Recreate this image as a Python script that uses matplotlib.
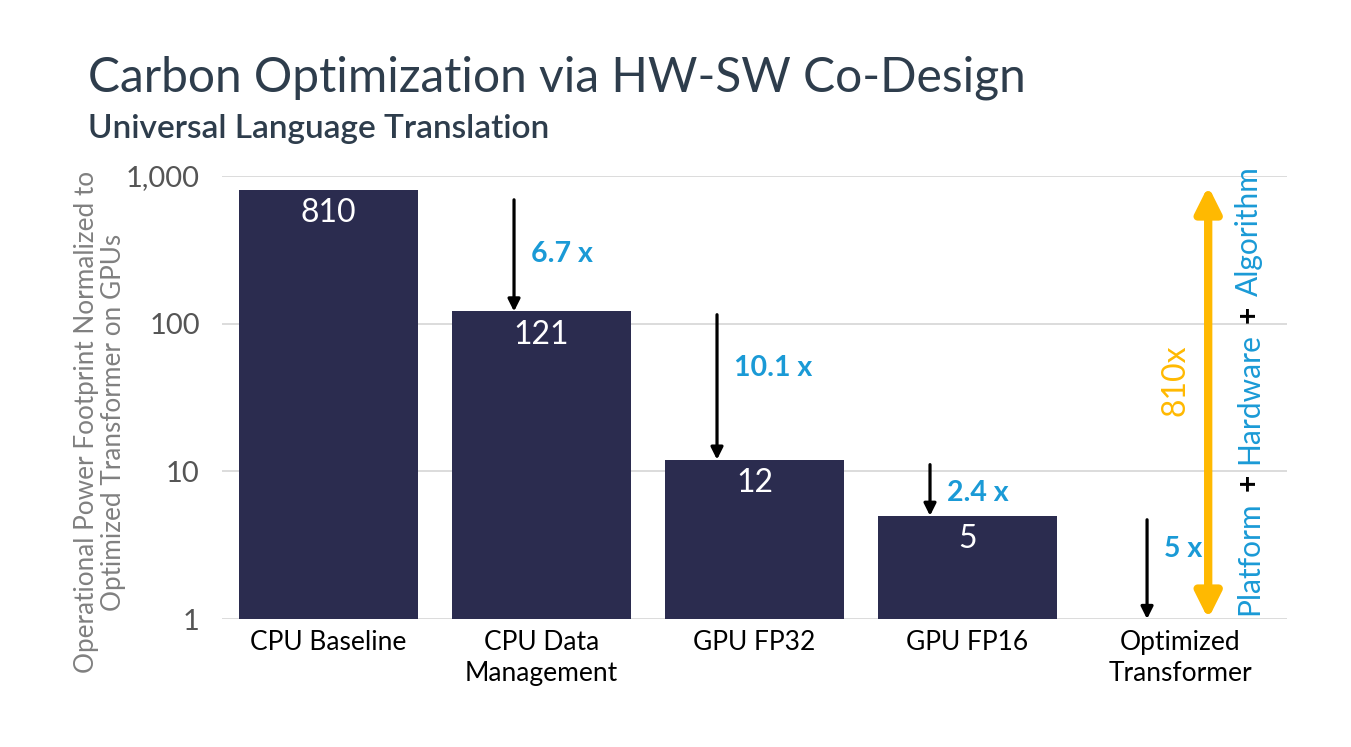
import matplotlib
matplotlib.use("Agg")
import matplotlib.pyplot as plt
import numpy as np

plt.rcParams['font.family'] = ['Lato', 'DejaVu Sans']

# ---- data ----
categories = ["CPU Baseline", "CPU Data\nManagement", "GPU FP32", "GPU FP16", "Optimized\nTransformer"]
values = [810, 121, 12, 5, None]
value_labels = ["810", "121", "12", "5"]
reduction_labels = ["6.7 x", "10.1 x", "2.4 x", "5 x"]
arrow_tops = [690, 115, 11.1, 4.7]      # start of each reduction arrow
arrow_bottoms = [121, 12, 5, 1]          # end of each reduction arrow
reduction_label_y = [297, 50, 7.1, 3.0]
total_label = "810x"
total_top = 855
yticks = [1, 10, 100, 1000]
ytick_labels = ["1", "10", "100", "1,000"]

# layout constants
arrow_dx = [0.871, 0.824, 0.824, 0.843]

BAR = "#2b2c4f"
BLUE = "#1a9ad6"
ORANGE = "#ffb901"
TITLE = "#2e3d4c"

fig = plt.figure(figsize=(13.51, 7.47), dpi=100)
ax = fig.add_axes([222/1351, 128/747, 1065/1351, 443/747])
x = np.arange(len(categories))
bar_vals = [v for v in values if v is not None]
ax.bar(x[:len(bar_vals)], bar_vals, width=0.84, color=BAR, zorder=3)
ax.set_yscale('log')
ax.set_ylim(1, 1000)
ax.set_xlim(-0.5, 4.5)
ax.set_yticks(yticks)
ax.set_yticklabels(ytick_labels, fontsize=21, color="#555555")
ax.yaxis.set_minor_locator(matplotlib.ticker.NullLocator())
ax.set_xticks(x)
ax.set_xticklabels(categories, fontsize=19, color="black", linespacing=1.3)
ax.tick_params(axis='both', length=0)
ax.tick_params(axis='x', pad=8)
ax.tick_params(axis='y', pad=16)
for s in ax.spines.values():
    s.set_visible(False)
ax.grid(axis='y', color="#d9d9d9", lw=1.3, zorder=0)
ax.set_axisbelow(True)

fig.text(100/1351, 1 - 422/747,
         "Operational Power Footprint Normalized to\nOptimized Transformer on GPUs",
         fontsize=18.8, color="#808080", linespacing=1.1, rotation=90,
         ha='center', va='center', multialignment='center')

# value labels in bars
for i, (v, lab) in enumerate(zip(bar_vals, value_labels)):
    ax.annotate(lab, (x[i], v), xytext=(0, -17), textcoords='offset points',
                ha='center', va='center', color='white', fontsize=23, zorder=4)

# reduction arrows
for i in range(4):
    xa = x[i] + arrow_dx[i]
    ax.annotate("", xy=(xa, arrow_bottoms[i]), xytext=(xa, arrow_tops[i]),
                arrowprops=dict(arrowstyle='-|>', color='black', lw=2.3, mutation_scale=18,
                                shrinkA=0, shrinkB=0), zorder=5)
    ax.text(xa + 0.08, reduction_label_y[i], reduction_labels[i], color=BLUE,
            fontsize=20.5, fontweight='bold', ha='left', va='center', zorder=5)

# total arrow
xt = 4.13
ax.annotate("", xy=(xt, 1), xytext=(xt, total_top),
            arrowprops=dict(arrowstyle='<|-|>', color=ORANGE, lw=6, mutation_scale=38,
                            shrinkA=0, shrinkB=0), zorder=5)
ax.text(xt - 0.155, 10**((np.log10(total_top)) / 2 + 0.15), total_label, color=ORANGE, fontsize=23,
        rotation=90, ha='center', va='center', zorder=5)

# Title
fig.text(88/1351, 1 - 92/747, "Carbon Optimization via HW-SW Co-Design", fontsize=34.5,
         color=TITLE, ha='left', va='baseline')
fig.text(88/1351, 1 - 138/747, "Universal Language Translation", fontsize=24,
         color=TITLE, ha='left', va='baseline', fontweight='semibold')

# rotated multi-colour text
fig.canvas.draw()
renderer = fig.canvas.get_renderer()
pieces = [("Platform", BLUE), ("+", "black"), ("Hardware", BLUE), ("+", "black"), ("Algorithm", BLUE)]
xc = 1249 / 1351
ypix = 747 - 615
gap = 10
for txt, col in pieces:
    t = fig.text(xc, ypix / 747, txt, color=col, fontsize=21.5, rotation=90,
                 ha='center', va='bottom', fontweight='bold' if txt == "+" else 'normal')
    bb = t.get_window_extent(renderer)
    ypix += bb.height + gap

fig.savefig("out.png", dpi=100)
